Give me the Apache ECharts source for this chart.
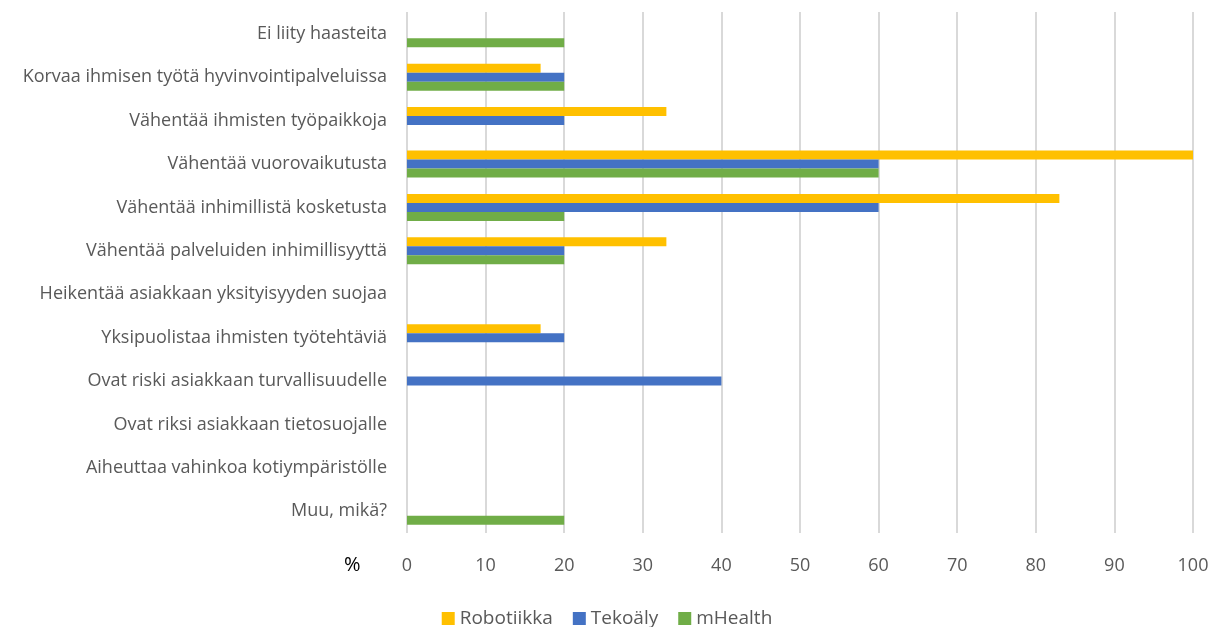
<!DOCTYPE html>
<html lang="fi">
<head>
    <meta charset="UTF-8">
    <title>Haasteet</title>
    <script src="https://cdn.jsdelivr.net/npm/echarts@6/dist/echarts.min.js"></script>
    <style>
        body { margin: 0; background: #fff; }
        #main { width: 1214px; height: 627px; }
    </style>
</head>
<body>
    <div id="main"></div>
    <script>
        var categories = [
            'Ei liity haasteita',
            'Korvaa ihmisen työtä hyvinvointipalveluissa',
            'Vähentää ihmisten työpaikkoja',
            'Vähentää vuorovaikutusta',
            'Vähentää inhimillistä kosketusta',
            'Vähentää palveluiden inhimillisyyttä',
            'Heikentää asiakkaan yksityisyyden suojaa',
            'Yksipuolistaa ihmisten työtehtäviä',
            'Ovat riski asiakkaan turvallisuudelle',
            'Ovat riksi asiakkaan tietosuojalle',
            'Aiheuttaa vahinkoa kotiympäristölle',
            'Muu, mikä?'
        ];
        var robotiikka = [0, 17, 33, 100, 83, 33, 0, 17, 0, 0, 0, 0];
        var tekoaly    = [0, 20, 20, 60, 60, 20, 0, 20, 40, 0, 0, 0];
        var mhealth    = [20, 20, 0, 60, 20, 20, 0, 0, 0, 0, 0, 20];
        var seriesNames = ['Robotiikka', 'Tekoäly', 'mHealth'];
        var colors = ['#FFC000', '#4472C4', '#70AD47'];

        var font = '"Open Sans", sans-serif';
        var chart = echarts.init(document.getElementById('main'));

        var values = [robotiikka, tekoaly, mhealth];
        var series = values.map(function (v, i) {
            return {
                name: seriesNames[i],
                type: 'bar',
                data: v,
                barWidth: 9,
                barGap: '0%',
                itemStyle: { color: colors[i] }
            };
        });

        chart.setOption({
            animation: false,
            textStyle: { fontFamily: font },
            color: colors,
            grid: { left: 407, right: 21, top: 12, bottom: 94 },
            legend: {
                bottom: -6,
                left: 'center',
                itemWidth: 13,
                itemHeight: 13,
                itemGap: 20,
                icon: 'rect',
                textStyle: { fontSize: 19, color: '#595959', fontFamily: font },
                data: seriesNames
            },
            xAxis: {
                type: 'value',
                min: 0,
                max: 100,
                interval: 10,
                axisLine: { show: false },
                axisTick: { show: false },
                splitLine: { lineStyle: { color: '#D9D9D9', width: 2 } },
                axisLabel: { color: '#595959', fontSize: 18, margin: 24 }
            },
            yAxis: {
                type: 'category',
                inverse: true,
                data: categories,
                axisLine: { show: false },
                axisTick: { show: false },
                axisLabel: { color: '#595959', fontSize: 18, margin: 20 }
            },
            graphic: [{
                type: 'text',
                left: 344,
                top: 555,
                style: { text: '%', fill: '#000', fontSize: 20, fontFamily: font }
            }],
            series: series
        });
    </script>
</body>
</html>
